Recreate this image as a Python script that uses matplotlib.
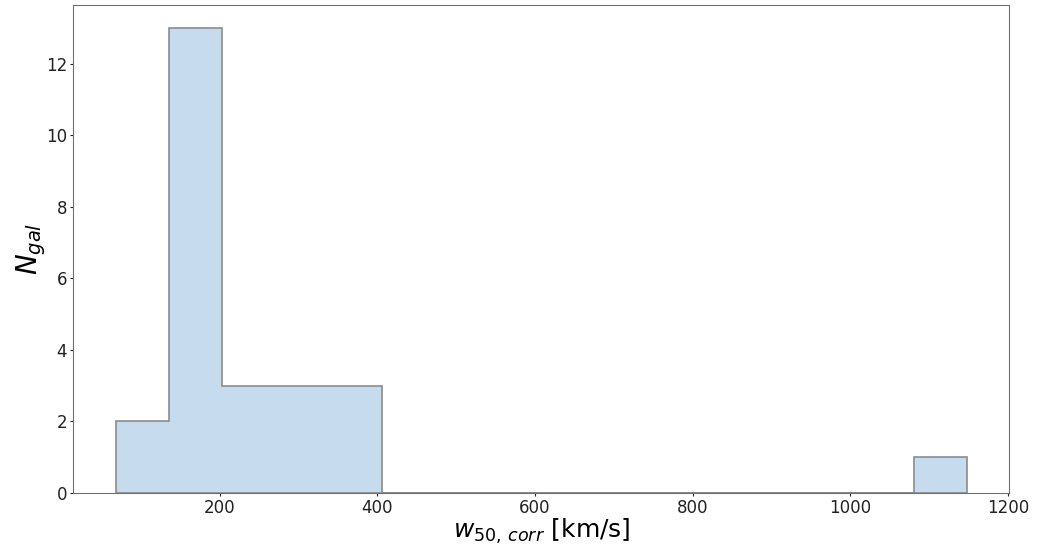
import numpy as np
from matplotlib import pyplot as plt

# w50 (inclination corrected) histogram, 16 equal-width bins
bin_edges = np.linspace(68, 1148, 17)
counts = [2, 13, 3, 3, 3, 0, 0, 0, 0, 0, 0, 0, 0, 0, 0, 1]

centers = 0.5 * (bin_edges[:-1] + bin_edges[1:])

fig = plt.figure(figsize=(10.45, 5.52), dpi=100)
ax = fig.add_axes([0.07, 0.107, 0.896, 0.884])
ax.hist(
    centers,
    bins=bin_edges,
    weights=counts,
    histtype="stepfilled",
    facecolor="#c6dbee",
    edgecolor="#8c8c8c",
    linewidth=1.2,
)
ax.set_xticks([200, 400, 600, 800, 1000, 1200])
ax.set_yticks([0, 2, 4, 6, 8, 10, 12])
ax.tick_params(labelsize=12, colors="#222222", length=2, pad=2.5)
for spine in ax.spines.values():
    spine.set_color("#6f6f6f")
ax.set_xlabel(r"$w_{50,\,corr}$ [km/s]", fontsize=18, labelpad=0)
ax.set_ylabel(r"$N_{gal}$", fontsize=20, labelpad=-2)
fig.savefig("out.png", dpi=100)
